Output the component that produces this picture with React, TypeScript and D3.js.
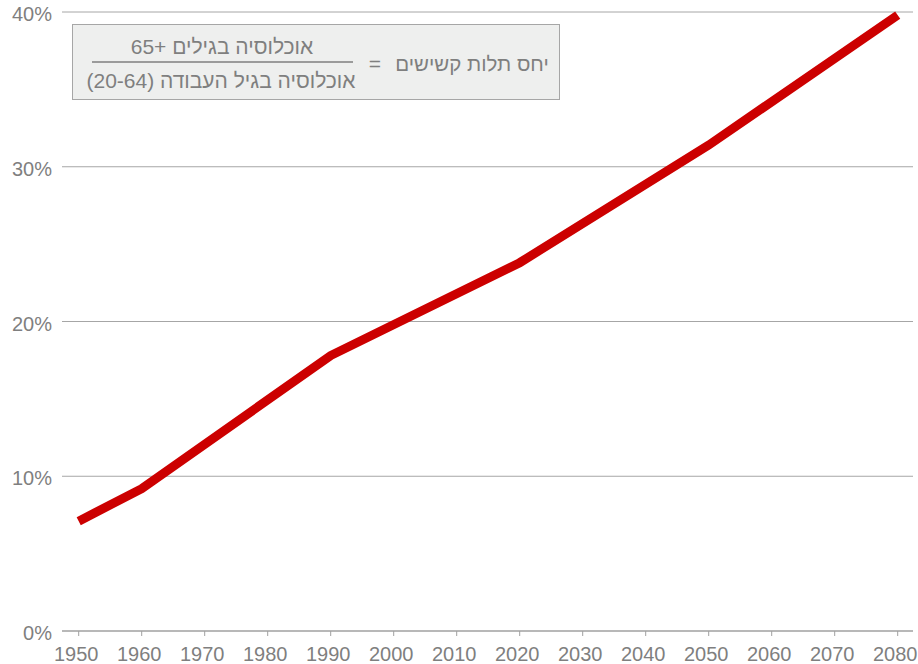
import React from "react";
import * as d3 from "d3";

const years = [1950, 1960, 1990, 2020, 2050, 2080];
const ratio = [7.1, 9.2, 17.8, 23.8, 31.4, 39.8];
const xTicks = [1950, 1960, 1970, 1980, 1990, 2000, 2010, 2020, 2030, 2040, 2050, 2060, 2070, 2080];
const yTicks = [0, 10, 20, 30, 40];
const titleText = "יחס תלות קשישים";
const numeratorText = "אוכלוסיה בגילים +65";
const denominatorText = "אוכלוסיה בגיל העבודה (20-64)";

const W = 918;
const H = 664;
const FONT = "'Liberation Sans', Arial, 'DejaVu Sans', sans-serif";
const GREY = "#7f7f7f";

export default function App() {
  const x = d3.scaleLinear().domain([1950, 2080]).range([78.7, 897.7]);
  const y = d3.scaleLinear().domain([0, 40]).range([631, 12]);
  const pts = years.map((yr, i) => [yr, ratio[i]] as [number, number]);
  const line = d3
    .line<[number, number]>()
    .x((d) => x(d[0]))
    .y((d) => y(d[1]));

  return (
    <svg
      width={W}
      height={H}
      style={{ position: "absolute", left: 0, top: 0, background: "#fff" }}
      fontFamily={FONT}
    >
      {yTicks.map((t) => (
        <g key={t}>
          <line
            x1={62}
            x2={913}
            y1={y(t)}
            y2={y(t)}
            stroke={t === 0 ? "#a0a0a0" : "#a6a6a6"}
            strokeWidth={t === 0 ? 1.5 : 1}
          />
          <text x={52} y={y(t) + 9} textAnchor="end" fontSize={20} fill={GREY}>
            {t}%
          </text>
        </g>
      ))}
      {xTicks.map((t) => (
        <g key={t}>
          <line x1={x(t)} x2={x(t)} y1={631} y2={636} stroke="#a0a0a0" strokeWidth={1} />
          <text x={x(t) - 2.5} y={661} textAnchor="middle" fontSize={20} fill={GREY}>
            {t}
          </text>
        </g>
      ))}

      <rect x={72.5} y={24.5} width={487} height={75} fill="#eeefee" stroke="#a6a6a6" strokeWidth={1} />
      <text x={472} y={71} textAnchor="middle" direction="rtl" fontSize={20.5} fill={GREY}>
        {titleText}
      </text>
      <text x={375} y={71} textAnchor="middle" fontSize={21} fill={GREY}>
        =
      </text>
      <text x={222} y={54} textAnchor="middle" direction="rtl" fontSize={21} fill={GREY}>
        {numeratorText}
      </text>
      <line x1={92} x2={353} y1={62} y2={62} stroke={GREY} strokeWidth={1.5} />
      <text x={221} y={88} textAnchor="middle" direction="rtl" fontSize={21} fill={GREY}>
        {denominatorText}
      </text>

      <path d={line(pts) || ""} fill="none" stroke="#cc0000" strokeWidth={9} strokeLinejoin="miter" />
    </svg>
  );
}
